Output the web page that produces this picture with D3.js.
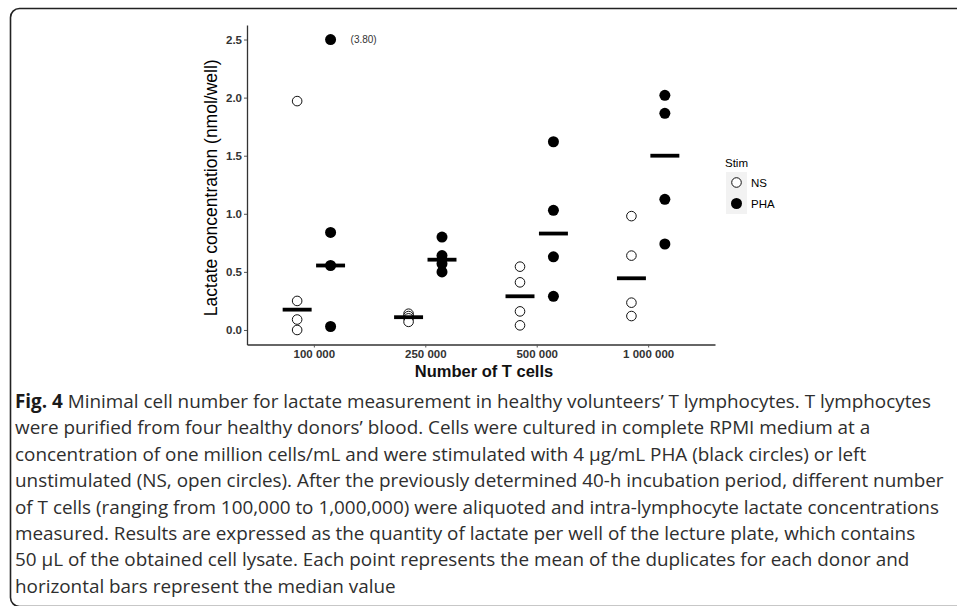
<!DOCTYPE html>
<html>
<head>
<meta charset="utf-8">
<script src="https://cdn.jsdelivr.net/npm/d3@7"></script>
<style>
  html, body { margin: 0; padding: 0; background: #fff; }
  svg { display: block; }
</style>
</head>
<body>
<svg id="chart" width="957" height="606"></svg>
<script>
// ---- Data ----
const categories = ["100 000", "250 000", "500 000", "1 000 000"];
const groups = ["NS", "PHA"];
const nsValues = [
  [1.97, 0.25, 0.09, 0.00],
  [0.14, 0.12, 0.10, 0.07],
  [0.545, 0.41, 0.16, 0.04],
  [0.98, 0.64, 0.235, 0.12]
];
const phaValues = [
  [2.50, 0.84, 0.555, 0.03],
  [0.80, 0.64, 0.57, 0.50],
  [1.62, 1.03, 0.63, 0.29],
  [2.02, 1.865, 1.125, 0.74]
];
const nsMedians = [0.175, 0.11, 0.29, 0.445];
const phaMedians = [0.555, 0.605, 0.83, 1.50];
const yTicks = [0, 0.5, 1.0, 1.5, 2.0, 2.5];
const outlierNote = { category: 0, group: "PHA", value: 2.50, label: "(3.80)" };
const yTitle = "Lactate concentration (nmol/well)";
const xTitle = "Number of T cells";
const legendTitle = "Stim";
const captionLines = [
  ["Fig. 4", " Minimal cell number for lactate measurement in healthy volunteers\u2019 T lymphocytes. T lymphocytes"],
  ["", "were purified from four healthy donors\u2019 blood. Cells were cultured in complete RPMI medium at a"],
  ["", "concentration of one million cells/mL and were stimulated with 4 \u03bcg/mL PHA (black circles) or left"],
  ["", "unstimulated (NS, open circles). After the previously determined 40-h incubation period, different number"],
  ["", "of T cells (ranging from 100,000 to 1,000,000) were aliquoted and intra-lymphocyte lactate concentrations"],
  ["", "measured. Results are expressed as the quantity of lactate per well of the lecture plate, which contains"],
  ["", "50 \u03bcL of the obtained cell lysate. Each point represents the mean of the duplicates for each donor and"],
  ["", "horizontal bars represent the median value"]
];

// ---- Layout ----
const svg = d3.select("#chart");
const panel = { left: 247, right: 715, top: 25, bottom: 344.5 };
const chartFont = "'Liberation Sans', Arial, sans-serif";

// frame
svg.append("rect")
  .attr("x", 10.5).attr("y", 8.5).attr("width", 980).attr("height", 598)
  .attr("rx", 9).attr("ry", 9)
  .attr("fill", "none").attr("stroke", "#222").attr("stroke-width", 1.6);

// scales
const x = d3.scaleLinear().domain([0.4, categories.length + 0.6]).range([panel.left, panel.right]);
const y = d3.scaleLinear().domain([-0.125, 2.625]).range([panel.bottom, panel.top]);
const dodge = 0.15;
const halfBar = 0.13;
const groupOffset = { NS: -dodge, PHA: dodge };

const g = svg.append("g");

// axes
const yAxis = d3.axisLeft(y).tickValues(yTicks).tickFormat(d3.format(".1f")).tickSizeInner(3).tickSizeOuter(0).tickPadding(2);
const yG = g.append("g").attr("transform", `translate(${panel.left},0)`).call(yAxis);
const xAxis = d3.axisBottom(x).tickValues(categories.map((c, i) => i + 1))
  .tickFormat(d => categories[d - 1]).tickSizeInner(3).tickSizeOuter(0).tickPadding(2.5);
const xG = g.append("g").attr("transform", `translate(0,${panel.bottom})`).call(xAxis);

[yG, xG].forEach(ax => {
  ax.select(".domain").attr("stroke", "#333").attr("stroke-width", 1.3);
  ax.selectAll(".tick line").attr("stroke", "#555").attr("stroke-width", 1);
  ax.selectAll(".tick text").attr("fill", "#333").attr("font-family", chartFont)
    .attr("font-size", 11.5).attr("font-weight", "bold");
});

// axis titles
g.append("text")
  .attr("transform", `translate(217,${(panel.top + panel.bottom) / 2 + 3}) rotate(-90)`)
  .attr("text-anchor", "middle")
  .attr("font-family", chartFont).attr("font-size", 17.5).attr("fill", "#000")
  .text(yTitle);
g.append("text")
  .attr("x", (panel.left + panel.right) / 2 + 3).attr("y", 377)
  .attr("text-anchor", "middle")
  .attr("font-family", chartFont).attr("font-size", 16.5).attr("font-weight", "bold").attr("fill", "#111")
  .text(xTitle);

// points
const pts = [];
categories.forEach((c, i) => {
  nsValues[i].forEach(v => pts.push({ cat: i, group: "NS", v }));
  phaValues[i].forEach(v => pts.push({ cat: i, group: "PHA", v }));
});
const r = 5.2;
g.selectAll("circle.pt").data(pts).join("circle")
  .attr("class", "pt")
  .attr("cx", d => x(d.cat + 1 + groupOffset[d.group]))
  .attr("cy", d => y(d.v))
  .attr("r", d => d.group === "NS" ? r - 0.4 : r + 0.3)
  .attr("fill", d => d.group === "NS" ? "#fff" : "#000")
  .attr("stroke", d => d.group === "NS" ? "#111" : "none")
  .attr("stroke-width", 1);

// median bars
const meds = [];
categories.forEach((c, i) => {
  meds.push({ cat: i, group: "NS", v: nsMedians[i] });
  meds.push({ cat: i, group: "PHA", v: phaMedians[i] });
});
g.selectAll("line.med").data(meds).join("line")
  .attr("class", "med")
  .attr("x1", d => x(d.cat + 1 + groupOffset[d.group] - halfBar))
  .attr("x2", d => x(d.cat + 1 + groupOffset[d.group] + halfBar))
  .attr("y1", d => y(d.v)).attr("y2", d => y(d.v))
  .attr("stroke", "#000").attr("stroke-width", 3.8);

// outlier label
g.append("text")
  .attr("x", x(outlierNote.category + 1 + groupOffset[outlierNote.group]) + 20)
  .attr("y", y(outlierNote.value)).attr("dy", "0.35em")
  .attr("font-family", chartFont).attr("font-size", 10).attr("fill", "#333")
  .text(outlierNote.label);

// legend
const lg = svg.append("g").attr("transform", "translate(725,0)");
lg.append("text").attr("x", 0).attr("y", 167)
  .attr("font-family", chartFont).attr("font-size", 11.5).attr("fill", "#000").text(legendTitle);
groups.forEach((grp, k) => {
  const top = 172 + k * 21;
  lg.append("rect").attr("x", 1).attr("y", top).attr("width", 21).attr("height", 21).attr("fill", "#f2f2f2");
  lg.append("circle").attr("cx", 11.5).attr("cy", top + 10.5)
    .attr("r", grp === "NS" ? r - 0.4 : r + 0.3)
    .attr("fill", grp === "NS" ? "#fff" : "#000")
    .attr("stroke", grp === "NS" ? "#111" : "none").attr("stroke-width", 1);
  lg.append("text").attr("x", 26).attr("y", top + 10.5).attr("dy", "0.36em")
    .attr("font-family", chartFont).attr("font-size", 11.5).attr("fill", "#000").text(grp);
});

// caption
const cap = svg.append("g");
const capFont = "'Open Sans', 'Noto Sans', sans-serif";
const lines = cap.selectAll("text").data(captionLines).join("text")
  .attr("x", 15).attr("y", (d, i) => 408 + i * 26.4)
  .attr("font-family", capFont).attr("font-size", 17).attr("fill", "#2e2e2e");
lines.each(function(d) {
  const t = d3.select(this);
  if (d[0]) t.append("tspan").attr("font-weight", "bold").attr("fill", "#1a1a1a").text(d[0]);
  t.append("tspan").text(d[1]);
});
// fit first line to its width in the picture
const w0 = lines.node().getComputedTextLength();
const fs = 17 * 917 / w0;
lines.attr("font-size", fs);
</script>
</body>
</html>
